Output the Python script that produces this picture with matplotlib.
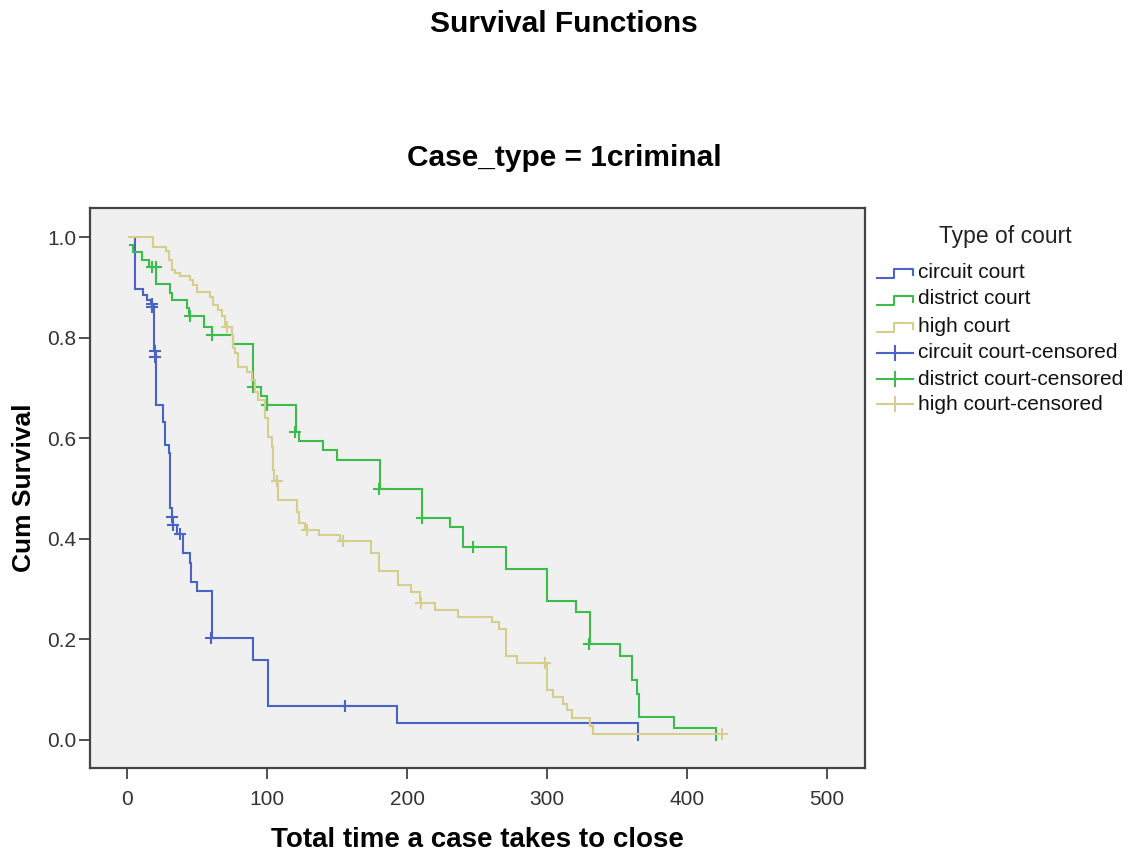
import matplotlib
matplotlib.use("Agg")
import matplotlib.pyplot as plt
from matplotlib.lines import Line2D

plt.rcParams['font.family'] = ['Liberation Sans', 'DejaVu Sans']

# ---- data ----
groups = ["circuit court", "district court", "high court"]
colors = ["#4A64C2", "#3CBC4A", "#D6CE8E"]

circuit_t = [6, 6, 11.5, 14, 17, 19.5, 20.5, 21, 25.5, 27, 30, 30.5, 32, 33, 36, 40, 45, 45.5, 50, 60.5, 90, 100.5, 193, 365]
circuit_s = [1.0, 0.897, 0.885, 0.875, 0.867, 0.774, 0.762, 0.666, 0.633, 0.586, 0.571, 0.461, 0.444, 0.427, 0.41, 0.372, 0.352, 0.314, 0.296, 0.203, 0.159, 0.068, 0.034, 0.0]
circuit_ct = [17.6, 17.8, 19.8, 20.3, 32, 33, 38, 60, 155.7]
circuit_cs = [0.867, 0.861, 0.774, 0.762, 0.444, 0.427, 0.41, 0.203, 0.068]

district_t = [2, 4, 10.5, 16, 21, 30.7, 32, 42.6, 44, 55, 60.5, 75.7, 90, 96, 100, 120.5, 123, 140, 150, 180.7, 210.5,
              230.5, 240, 270.7, 300.2, 320.5, 330.5, 352, 360.5, 364.5, 365.5, 390.7, 420.5]
district_s = [0.985, 0.97, 0.955, 0.94, 0.906, 0.889, 0.875, 0.859, 0.843, 0.822, 0.805, 0.787, 0.702, 0.684, 0.666, 0.612,
              0.595, 0.577, 0.557, 0.5, 0.442, 0.423, 0.383, 0.34, 0.276, 0.254, 0.191, 0.167, 0.119, 0.091, 0.046, 0.023, 0.0]
district_ct = [17.6, 20.7, 45, 60.5, 90, 100, 120, 180, 210.5, 247.4, 330]
district_cs = [0.94, 0.94, 0.843, 0.805, 0.702, 0.666, 0.612, 0.5, 0.442, 0.383, 0.191]

high_t = [1.7, 18.3, 28, 30, 32, 34, 38, 45, 47, 50, 59, 61.7, 65, 67.6, 70, 74.8, 76, 77, 79, 85.5, 89, 91.4, 93.8, 98.6,
          101, 103.4, 104, 105, 108, 121.2, 122.9, 127.5, 137, 152, 174, 180, 193.8, 203, 209, 220, 236.7, 261, 266,
          270.7, 278.8, 299.8, 304.5, 311.7, 314, 317.6, 330.7, 332.6, 425]
high_s = [1.0, 0.98, 0.973, 0.954, 0.934, 0.928, 0.922, 0.915, 0.905, 0.891, 0.881, 0.865, 0.855, 0.843, 0.822, 0.805,
          0.78, 0.77, 0.742, 0.732, 0.716, 0.692, 0.676, 0.64, 0.603, 0.583, 0.537, 0.514, 0.478, 0.454, 0.432, 0.418,
          0.407, 0.396, 0.371, 0.335, 0.308, 0.295, 0.273, 0.258, 0.245, 0.235, 0.22, 0.167, 0.154, 0.1, 0.086, 0.072,
          0.06, 0.043, 0.028, 0.012, 0.012]
high_ct = [71.2, 106.9, 128.8, 154.5, 209.8, 298.6, 425]
high_cs = [0.822, 0.514, 0.418, 0.396, 0.273, 0.154, 0.012]

x_ticks = [0, 100, 200, 300, 400, 500]
y_ticks = [0.0, 0.2, 0.4, 0.6, 0.8, 1.0]

W, H = 1136, 856
fig = plt.figure(figsize=(W / 100, H / 100), dpi=100)
fig.patch.set_facecolor("white")

def fx(px):
    return px / W

def fy(py):
    return 1 - py / H

ax = fig.add_axes([fx(90), fy(768), fx(865) - fx(90), fy(208) - fy(768)])
ax.set_facecolor("#F0F0F0")

series = [
    (circuit_t, circuit_s, circuit_ct, circuit_cs),
    (district_t, district_s, district_ct, district_cs),
    (high_t, high_s, high_ct, high_cs),
]
for (t, s, ct, cs), c in zip(series, colors):
    ax.step(t, s, where="post", color=c, lw=1.5, solid_joinstyle="miter")
    ax.plot(ct, cs, linestyle="none", marker="+", markersize=9, markeredgewidth=1.5, color=c)

ax.set_xlim(-26.4, 527.1)
ax.set_ylim(-0.0557, 1.0577)
ax.set_xticks(x_ticks)
ax.set_xticklabels([str(v) for v in x_ticks])
ax.set_yticks(y_ticks)
ax.set_yticklabels([f"{v:.1f}" for v in y_ticks])
ax.tick_params(axis="both", direction="out", length=8, width=1.2, color="#333333",
               labelsize=15, labelcolor="#333333")
ax.tick_params(axis="x", pad=8)
ax.tick_params(axis="y", pad=2)
for sp in ax.spines.values():
    sp.set_color("#444444")
    sp.set_linewidth(1.6)

ax.set_ylabel("Cum Survival", fontsize=19, fontweight="bold", labelpad=8)
fig.text(fx(477.5), fy(840), "Total time a case takes to close", fontsize=20, fontweight="bold",
         ha="center", va="center")

fig.text(fx(564), fy(24), "Survival Functions", fontsize=21.5, fontweight="bold", ha="center", va="center")
fig.text(fx(564), fy(158), "Case_type = 1criminal", fontsize=21.5, fontweight="bold", ha="center", va="center")

# legend (drawn in figure pixel space)
fig.text(fx(1005), fy(236), "Type of court", fontsize=16.5, ha="center", va="center", color="#222222")
rows = [272, 299, 326, 353, 379, 404]
labels = groups + [g + "-censored" for g in groups]
for i, (yc, lab) in enumerate(zip(rows, labels)):
    c = colors[i % 3]
    if i < 3:
        xs = [877, 894, 894, 913, 913]
        ys = [yc + 6, yc + 6, yc - 3, yc - 3, yc + 3]
    else:
        xs = [877, 913]
        ys = [yc, yc]
        fig.add_artist(Line2D([fx(895), fx(895)], [fy(yc - 7), fy(yc + 7)], transform=fig.transFigure,
                              color=c, lw=1.5))
    fig.add_artist(Line2D([fx(v) for v in xs], [fy(v) for v in ys], transform=fig.transFigure,
                          color=c, lw=1.5))
    fig.text(fx(918), fy(yc), lab, fontsize=15, ha="left", va="center", color="#111111")

fig.savefig("out.png", dpi=100)
